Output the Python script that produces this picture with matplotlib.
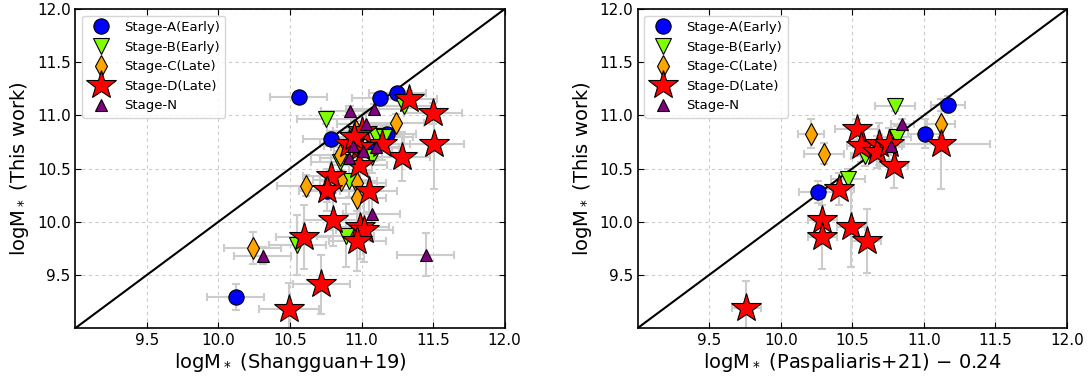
import matplotlib.pyplot as plt
import numpy as np

# Shangguan+19 comparison (left panel)
a1_x = [10.56, 11.13, 11.25, 10.79, 11.18, 10.12, 10.76, 11.06]
a1_y = [11.17, 11.16, 11.21, 10.78, 10.83, 9.29, 10.29, 10.69]
a1_xerr = [0.2, 0.2, 0.2, 0.2, 0.2, 0.2, 0.2, 0.2]
a1_yerr = [0.03, 0.05, 0.05, 0.05, 0.08, 0.12, 0.1, 0.08]

b1_x = [10.75, 11.30, 11.10, 11.16, 11.07, 10.85, 10.91, 10.89, 10.55]
b1_y = [10.97, 11.09, 10.81, 10.80, 10.61, 10.56, 10.38, 9.87, 9.78]
b1_xerr = [0.2, 0.2, 0.2, 0.2, 0.2, 0.2, 0.2, 0.2, 0.2]
b1_yerr = [0.05, 0.05, 0.1, 0.1, 0.15, 0.15, 0.15, 0.3, 0.28]

c1_x = [11.24, 10.61, 10.24, 10.85, 10.86, 10.97, 10.97, 10.96]
c1_y = [10.93, 10.34, 9.75, 10.63, 10.39, 10.36, 10.22, 10.85]
c1_xerr = [0.2, 0.2, 0.2, 0.2, 0.2, 0.2, 0.2, 0.2]
c1_yerr = [0.08, 0.1, 0.15, 0.1, 0.1, 0.1, 0.12, 0.1]

d1_x = [11.33, 11.50, 11.51, 11.28, 11.14, 11.00, 10.99, 10.98, 10.91, 10.95,
        10.79, 10.76, 11.05, 10.80, 10.60, 10.99, 11.02, 10.97, 10.72, 10.49]
d1_y = [11.15, 11.02, 10.73, 10.61, 10.73, 10.85, 10.70, 10.53, 10.73, 10.80,
        10.43, 10.30, 10.29, 10.02, 9.86, 9.95, 9.92, 9.82, 9.41, 9.18]
d1_xerr = [0.2, 0.2, 0.21, 0.2, 0.2, 0.2, 0.2, 0.2, 0.2, 0.2,
           0.2, 0.2, 0.2, 0.2, 0.2, 0.2, 0.2, 0.2, 0.2, 0.21]
d1_yerr = [0.08, 0.1, 0.42, 0.23, 0.15, 0.15, 0.2, 0.2, 0.15, 0.15,
           0.2, 0.2, 0.2, 0.25, 0.3, 0.3, 0.3, 0.28, 0.28, 0.24]

n1_x = [10.92, 11.09, 11.03, 10.94, 11.01, 11.10, 10.91, 11.07, 10.31, 11.45]
n1_y = [11.04, 11.06, 10.92, 10.71, 10.67, 10.70, 10.60, 10.07, 9.68, 9.69]
n1_xerr = [0.2, 0.2, 0.2, 0.2, 0.2, 0.2, 0.2, 0.2, 0.2, 0.2]
n1_yerr = [0.05, 0.05, 0.1, 0.1, 0.1, 0.1, 0.15, 0.15, 0.08, 0.2]

# Paspaliaris+21 comparison, shifted by -0.24 (right panel)
a2_x = [11.17, 11.01, 10.26]
a2_y = [11.10, 10.83, 10.28]
a2_xerr = [0.12, 0.12, 0.13]
a2_yerr = [0.08, 0.14, 0.1]

b2_x = [10.80, 10.81, 10.59, 10.47]
b2_y = [11.09, 10.80, 10.62, 10.40]
b2_xerr = [0.14, 0.1, 0.1, 0.12]
b2_yerr = [0.05, 0.1, 0.1, 0.1]

c2_x = [10.21, 10.30, 11.12]
c2_y = [10.83, 10.64, 10.92]
c2_xerr = [0.09, 0.14, 0.1]
c2_yerr = [0.14, 0.1, 0.12]

d2_x = [10.53, 10.56, 10.69, 10.67, 10.76, 10.79, 10.41, 10.29, 10.29, 10.49, 10.60, 11.12, 9.76]
d2_y = [10.87, 10.71, 10.73, 10.66, 10.73, 10.52, 10.31, 10.02, 9.86, 9.95, 9.82, 10.73, 9.19]
d2_xerr = [0.15, 0.1, 0.1, 0.1, 0.1, 0.1, 0.1, 0.1, 0.1, 0.1, 0.1, 0.34, 0.1]
d2_yerr = [0.1, 0.15, 0.2, 0.15, 0.15, 0.2, 0.15, 0.2, 0.3, 0.38, 0.3, 0.42, 0.25]

n2_x = [10.85, 10.77]
n2_y = [10.92, 10.71]
n2_xerr = [0.08, 0.08]
n2_yerr = [0.05, 0.05]

labels = ['Stage-A(Early)', 'Stage-B(Early)', 'Stage-C(Late)', 'Stage-D(Late)', 'Stage-N']
markers = ['o', 'v', 'd', '*', '^']
colors = ['#0000ff', '#7fff00', '#ffa500', '#ff0000', '#800080']
sizes = [11, 11, 11, 22, 9]

left_sets = [(a1_x, a1_y, a1_xerr, a1_yerr), (b1_x, b1_y, b1_xerr, b1_yerr),
             (c1_x, c1_y, c1_xerr, c1_yerr), (d1_x, d1_y, d1_xerr, d1_yerr),
             (n1_x, n1_y, n1_xerr, n1_yerr)]
right_sets = [(a2_x, a2_y, a2_xerr, a2_yerr), (b2_x, b2_y, b2_xerr, b2_yerr),
              (c2_x, c2_y, c2_xerr, c2_yerr), (d2_x, d2_y, d2_xerr, d2_yerr),
              (n2_x, n2_y, n2_xerr, n2_yerr)]

fig = plt.figure(figsize=(10.89, 3.81), dpi=100)
ax1 = fig.add_axes([0.0693, 0.139, 0.394, 0.837])
ax2 = fig.add_axes([0.5856, 0.139, 0.394, 0.837])


def draw_panel(ax, sets, xlabel):
    # error bars first so every marker sits on top of them
    for x, y, xe, ye in sets:
        ax.errorbar(x, y, xerr=xe, yerr=ye, fmt='none', ecolor='#cccccc',
                    elinewidth=1.5, capsize=3, capthick=1.5, zorder=1)
    for (x, y, xe, ye), lab, m, c, s in zip(sets, labels, markers, colors, sizes):
        ax.plot(x, y, linestyle='none', marker=m, ms=s, mfc=c, mec='k',
                mew=0.8, label=lab, zorder=3)
    ax.plot([9.0, 12.0], [9.0, 12.0], color='k', lw=1.5, zorder=2)
    ax.set_xlim(9.0, 12.0)
    ax.set_ylim(9.0, 12.0)
    ticks = [9.5, 10.0, 10.5, 11.0, 11.5, 12.0]
    ax.set_xticks(ticks)
    ax.set_yticks(ticks)
    ax.tick_params(direction='in', top=True, right=True, labelsize=11, length=4)
    ax.grid(True, color='#cccccc', linestyle=(0, (3, 3)), lw=0.8, zorder=0)
    ax.set_axisbelow(True)
    for sp in ax.spines.values():
        sp.set_linewidth(1.2)
    ax.set_xlabel(xlabel, fontsize=14, labelpad=2)
    ax.set_ylabel('logM$_*$ (This work)', fontsize=14)
    ax.legend(loc='upper left', fontsize=9.5, labelspacing=0.5, borderpad=0.4)


draw_panel(ax1, left_sets, 'logM$_*$ (Shangguan+19)')
draw_panel(ax2, right_sets, 'logM$_*$ (Paspaliaris+21) $-$ 0.24')

plt.savefig('out.png', dpi=100)
